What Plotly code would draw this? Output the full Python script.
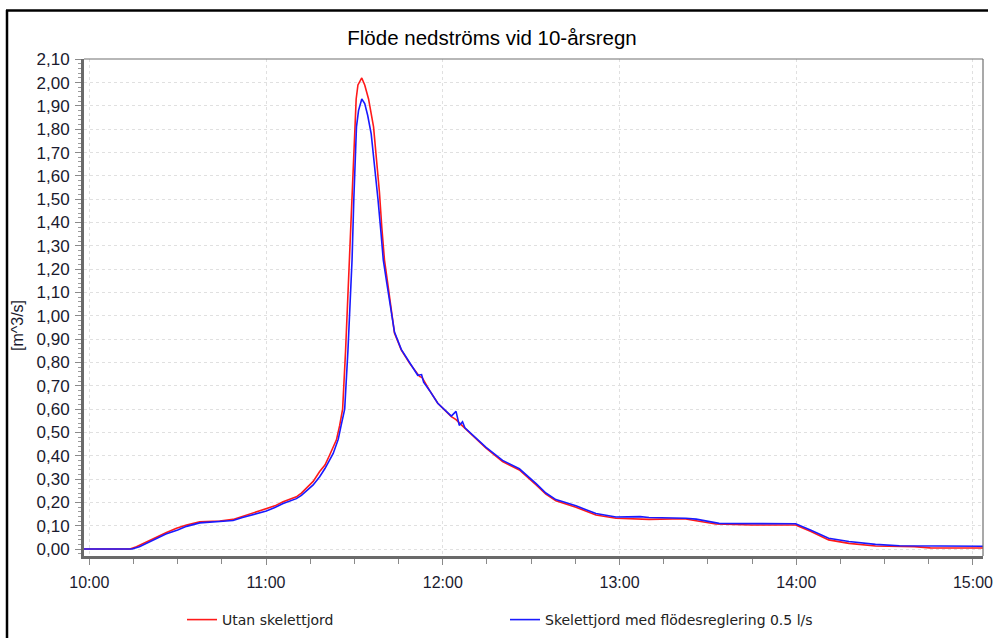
import pandas as pd
import plotly.graph_objects as go

# Flow series, minutes after 10:00 and discharge in m^3/s
red_minutes = [-2, 13.8, 16, 19.5, 22.8, 26, 29.6, 33, 37.5, 41, 44.3, 48.8, 52, 55.6,
               60.1, 63, 65.8, 70.3, 72, 74.2, 76, 78.2, 80, 81.6, 83.9, 85, 86, 87,
               87.5, 88.4, 89.2, 90.6, 91.2, 92.5, 93.5, 94.8, 96.5, 97.5, 98.5, 99.3,
               100.2, 101.3, 102.8, 103.6, 105.9, 108.7, 112.1, 113, 115.5, 118.3,
               122.9, 124.5, 126.5, 130.7, 134.7, 140.3, 146, 151.7, 155, 158.4, 165.2,
               172, 178.8, 190, 202, 206, 212.7, 225, 239.8, 245, 251, 257.9, 266.9,
               280, 285.5, 303.5]
red_values = [0.0, 0.0, 0.01, 0.031, 0.053, 0.07, 0.089, 0.103, 0.117, 0.118, 0.12,
              0.127, 0.14, 0.153, 0.17, 0.185, 0.203, 0.224, 0.24, 0.267, 0.29, 0.332,
              0.36, 0.403, 0.468, 0.53, 0.6, 0.85, 1.0, 1.24, 1.5, 1.93, 1.99, 2.02,
              1.99, 1.93, 1.81, 1.67, 1.53, 1.38, 1.24, 1.14, 1.0, 0.926, 0.854, 0.797,
              0.74, 0.735, 0.68, 0.625, 0.568, 0.555, 0.53, 0.48, 0.432, 0.375, 0.339,
              0.275, 0.235, 0.207, 0.179, 0.146, 0.132, 0.127, 0.13, 0.121, 0.107,
              0.103, 0.103, 0.075, 0.039, 0.024, 0.013, 0.01, 0.005, 0.004]

blue_minutes = [-2, 14.5, 17, 20, 23, 26, 30, 33, 37.5, 41, 44.3, 48.8, 52, 55.6, 60.1,
                63, 65.8, 70.3, 72, 74.2, 76, 78.2, 80, 82.8, 84.5, 85.5, 86.7, 87.8,
                88.4, 89.2, 89.8, 90.4, 90.7, 91.4, 92.5, 93.5, 94.5, 95.7, 96.9, 98,
                99, 99.8, 101, 102.6, 103.6, 105.9, 108.7, 111.5, 112.8, 113.5, 115.5,
                118.3, 122.9, 124.5, 125.6, 126.7, 127.5, 130.7, 134.7, 140.3, 146,
                151.7, 155, 158.4, 165.2, 172, 178.8, 187, 190, 202.5, 206, 213.8,
                239.8, 245, 251, 257.9, 266.9, 275, 290, 303.5]
blue_values = [0.0, 0.0, 0.01, 0.028, 0.048, 0.064, 0.082, 0.097, 0.112, 0.115, 0.116,
               0.122, 0.135, 0.148, 0.163, 0.178, 0.195, 0.216, 0.23, 0.255, 0.275,
               0.31, 0.345, 0.41, 0.47, 0.53, 0.6, 0.85, 1.0, 1.24, 1.5, 1.67, 1.81,
               1.88, 1.93, 1.91, 1.86, 1.78, 1.64, 1.5, 1.36, 1.24, 1.14, 1.0, 0.93,
               0.856, 0.8, 0.745, 0.748, 0.715, 0.68, 0.625, 0.57, 0.59, 0.53, 0.546,
               0.52, 0.483, 0.436, 0.38, 0.344, 0.28, 0.24, 0.212, 0.185, 0.152, 0.137,
               0.139, 0.135, 0.132, 0.128, 0.11, 0.108, 0.08, 0.046, 0.032, 0.02,
               0.014, 0.012, 0.012]

series_names = ["Utan skelettjord", "Skelettjord med flödesreglering 0.5 l/s"]
chart_title = "Flöde nedströms vid 10-årsregn"
y_title = "[m^3/s]"

base = pd.Timestamp("2024-01-01 10:00")


def to_time(mins):
    return [base + pd.Timedelta(minutes=m) for m in mins]


fig = go.Figure()
fig.add_trace(go.Scatter(x=to_time(red_minutes), y=red_values, mode="lines",
                         name=series_names[0],
                         line=dict(color="#ff1a1a", width=1.6)))
fig.add_trace(go.Scatter(x=to_time(blue_minutes), y=blue_values, mode="lines",
                         name=series_names[1],
                         line=dict(color="#1a1aff", width=1.6)))

W, H = 997, 638
L, R, T, B = 84, 983, 59, 556


def px(xp):
    return (xp - L) / (R - L)


def py(yp):
    return (B - yp) / (B - T)


shapes = [
    # thin frame on top and right of the plot
    dict(type="line", xref="paper", yref="paper", x0=0, x1=1, y0=1, y1=1,
         line=dict(color="#707070", width=1.2)),
    dict(type="line", xref="paper", yref="paper", x0=1, x1=1, y0=0, y1=1,
         line=dict(color="#707070", width=1.2)),
    # outer black border
    dict(type="line", xref="paper", yref="paper", x0=px(6), x1=px(988),
         y0=py(10.5), y1=py(10.5), line=dict(color="black", width=2.5)),
    dict(type="line", xref="paper", yref="paper", x0=px(7), x1=px(7),
         y0=py(10), y1=py(640), line=dict(color="black", width=2.5)),
]

fig.update_layout(
    width=W, height=H,
    margin=dict(l=L, r=W - R, t=T, b=H - B, autoexpand=False),
    paper_bgcolor="white", plot_bgcolor="white",
    separators=",.",
    title=dict(text=chart_title, x=492 / W, xanchor="center", xref="container",
               y=1 - 38 / H, yanchor="middle", yref="container",
               font=dict(family="Liberation Sans, Arial", size=20.5, color="black")),
    font=dict(family="Liberation Sans, Arial", size=16, color="#1a1a2e"),
    shapes=shapes,
    showlegend=True,
    legend=dict(orientation="h", x=182 / W, xanchor="left", xref="container",
                y=1 - 620 / H, yanchor="middle", yref="container",
                entrywidth=278, entrywidthmode="pixels",
                font=dict(family="DejaVu Sans", size=14, color="#222222"),
                bgcolor="rgba(0,0,0,0)", itemwidth=30),
    annotations=[dict(text=y_title, xref="paper", yref="paper", x=px(17), y=py(326),
                      showarrow=False, textangle=-90, xanchor="center",
                      yanchor="middle",
                      font=dict(family="Liberation Sans, Arial", size=16,
                                color="#1a1a2e"))],
)

fig.update_xaxes(
    type="date", automargin=False,
    range=[base + pd.Timedelta(minutes=-1.8), base + pd.Timedelta(minutes=303.4)],
    dtick=3600000, tick0=base, tickformat="%H:%M",
    showgrid=True, gridcolor="#e0e0e0", griddash="dot", gridwidth=1,
    showline=True, linecolor="#6a6a6a", linewidth=3,
    ticks="outside", ticklen=6, tickcolor="#8a8a8a", tickwidth=1,
    ticklabelstandoff=4,
    minor=dict(dtick=900000, tick0=base, ticks="outside", ticklen=5,
               tickcolor="#8a8a8a", showgrid=False),
    zeroline=False,
)
fig.update_yaxes(
    automargin=False,
    range=[-0.030, 2.1013],
    dtick=0.1, tick0=0, tickformat=".2f",
    tickfont=dict(size=17),
    showgrid=True, gridcolor="#e0e0e0", griddash="dot", gridwidth=1,
    showline=True, linecolor="#6a6a6a", linewidth=3,
    ticks="outside", ticklen=6, tickcolor="#8a8a8a", tickwidth=1,
    ticklabelstandoff=2,
    minor=dict(dtick=0.02, tick0=0, ticks="outside", ticklen=3,
               tickcolor="#9a9a9a", showgrid=False),
    zeroline=False,
)

fig.write_html("out.html")
